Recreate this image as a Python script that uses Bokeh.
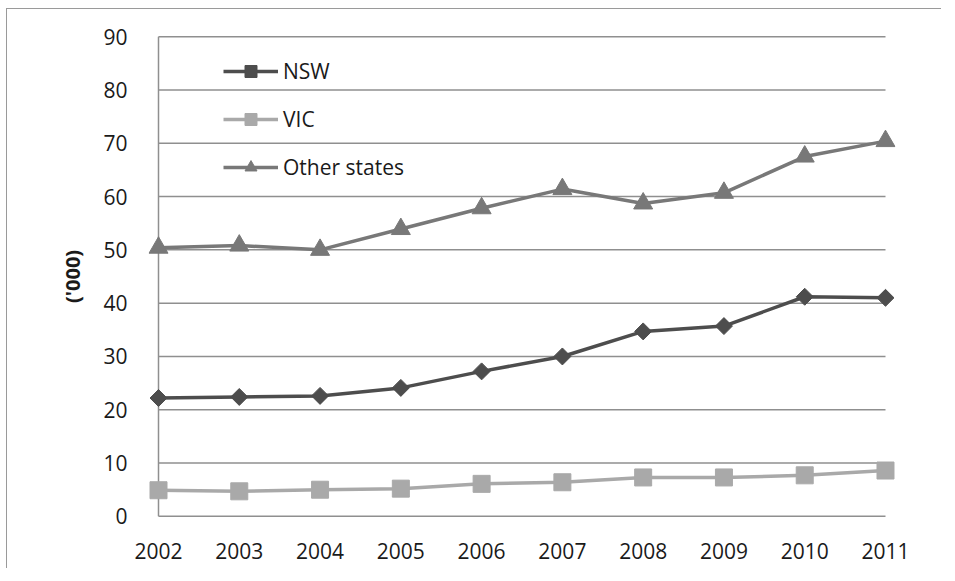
from bokeh.plotting import figure
from bokeh.models import Range1d, FixedTicker
from bokeh.embed import file_html
from bokeh.resources import INLINE
import math

years = [2002, 2003, 2004, 2005, 2006, 2007, 2008, 2009, 2010, 2011]
nsw = [22.2, 22.4, 22.6, 24.1, 27.2, 30.0, 34.7, 35.7, 41.2, 41.0]
vic = [4.9, 4.7, 5.0, 5.2, 6.1, 6.4, 7.3, 7.3, 7.7, 8.6]
other = [50.4, 50.8, 50.0, 53.9, 57.8, 61.4, 58.7, 60.7, 67.5, 70.4]
y_ticks = [0, 10, 20, 30, 40, 50, 60, 70, 80, 90]
y_label = "('000)"

FONT = "Open Sans"
GRID = "#8f8f8f"
TEXT = "#1a1a1a"

xpad = 0.1238
ypad = 0.4
p = figure(width=935, height=560, output_backend="svg", toolbar_location=None,
           x_range=Range1d(years[0] - xpad, years[-1] + xpad),
           y_range=Range1d(y_ticks[0] - ypad, y_ticks[-1] + ypad),
           min_border_left=141, min_border_right=47, min_border_top=25, min_border_bottom=51)
p.outline_line_color = None
p.xgrid.visible = False
p.ygrid.visible = False
p.background_fill_color = "white"
p.border_fill_color = "white"
# outer chart-area border (only its left and top edges fall inside the picture)
p.styles = {"margin-left": "6px", "margin-top": "8px",
            "border-left": "1.5px solid #9a9a9a", "border-top": "1.5px solid #9a9a9a"}

# gridlines & axis lines drawn across the category span
p.segment(x0=[years[0]] * len(y_ticks), x1=[years[-1]] * len(y_ticks), y0=y_ticks, y1=y_ticks,
          line_color=GRID, line_width=1.5)
p.segment(x0=[years[0]], x1=[years[0]], y0=[y_ticks[0]], y1=[y_ticks[-1]], line_color=GRID, line_width=1.5)

NSW_C = "#4d4d4d"
VIC_C = "#a9a9a9"
OTH_C = "#787878"

p.line(years, nsw, line_color=NSW_C, line_width=3.5, legend_label="NSW")
p.scatter(years, nsw, marker="square", angle=math.pi / 4, size=12, color=NSW_C, legend_label="NSW")
p.line(years, vic, line_color=VIC_C, line_width=3.5, legend_label="VIC")
p.scatter(years, vic, marker="square", size=17, color=VIC_C, legend_label="VIC")
p.line(years, other, line_color=OTH_C, line_width=3.5, legend_label="Other states")
p.scatter(years, other, marker="triangle", size=19, color=OTH_C, legend_label="Other states")

for ax in (p.xaxis[0], p.yaxis[0]):
    ax.axis_line_color = None
    ax.major_tick_line_color = None
    ax.minor_tick_line_color = None
    ax.major_label_text_font = FONT
    ax.major_label_text_font_size = "21px"
    ax.major_label_text_color = TEXT

p.xaxis.ticker = FixedTicker(ticks=years)
p.yaxis.ticker = FixedTicker(ticks=y_ticks)
p.xaxis.major_label_standoff = 18
p.yaxis.major_label_standoff = 15
p.yaxis.axis_label = y_label
p.yaxis.axis_label_text_font = FONT
p.yaxis.axis_label_text_font_size = "20px"
p.yaxis.axis_label_text_font_style = "bold"
p.yaxis.axis_label_text_color = TEXT
p.yaxis.axis_label_standoff = 14

lg = p.legend[0]
lg.location = (75, 336)
lg.margin = 0
lg.padding = 0
lg.spacing = 18
lg.glyph_width = 55
lg.glyph_height = 30
lg.label_height = 30
lg.label_standoff = 5
lg.label_text_font = FONT
lg.label_text_font_size = "21px"
lg.label_text_color = TEXT
lg.border_line_color = None
lg.background_fill_alpha = 0

open("out.html", "w").write(file_html(p, INLINE))
